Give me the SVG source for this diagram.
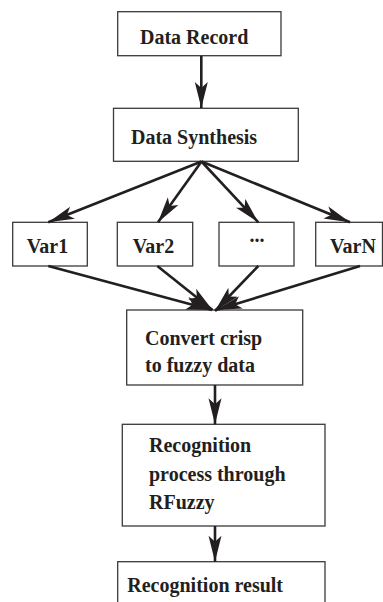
<svg xmlns="http://www.w3.org/2000/svg" width="383" height="602" viewBox="0 0 383 602">
<style>
.box{fill:#fff;stroke:#3a3a3a;stroke-width:1.3}
.t{font-family:"Liberation Serif","Times New Roman",serif;font-weight:bold;font-size:20px;fill:#231f20}
.c{fill:none;stroke:#231f20;stroke-width:2.6;marker-end:url(#ah)}
</style>
<defs>
<marker id="ah" markerUnits="userSpaceOnUse" viewBox="0 0 26 14" refX="26" refY="7" markerWidth="26" markerHeight="14" orient="auto">
<path d="M0,0.5 Q14,4 26,7 Q14,10 0,13.5 L6,7 Z" fill="#231f20"/>
</marker>
</defs>
<g id="n1"><rect class="box" x="117.7" y="11.7" width="163.3" height="44"/><text class="t" x="140" y="43.5">Data Record</text></g>
<g id="n2"><rect class="box" x="113.5" y="108.3" width="184.8" height="53"/><text class="t" x="131" y="144">Data Synthesis</text></g>
<g id="v1"><rect class="box" x="12.7" y="222.3" width="74.6" height="43.7"/><text class="t" x="26.7" y="253.3">Var1</text></g>
<g id="v2"><rect class="box" x="117.3" y="222.3" width="75.4" height="43.7"/><text class="t" x="132.7" y="253.3">Var2</text></g>
<g id="v3"><rect class="box" x="219" y="222.3" width="75" height="43.7"/><text class="t" x="249.5" y="242">...</text></g>
<g id="vn"><rect class="box" x="315.7" y="222.3" width="66.8" height="43.7"/><text class="t" x="330" y="253.3">VarN</text></g>
<g id="n3"><rect class="box" x="126.7" y="310" width="176" height="75"/><text class="t" x="145" y="345">Convert crisp</text><text class="t" x="145" y="371.7">to fuzzy data</text></g>
<g id="n4"><rect class="box" x="122.3" y="424.3" width="202.7" height="101.7"/><text class="t" x="149" y="452.3">Recognition</text><text class="t" x="149" y="480.7">process through</text><text class="t" x="149" y="509.3">RFuzzy</text></g>
<g id="n5"><rect class="box" x="117.7" y="561.7" width="207.3" height="60"/><text class="t" x="127.3" y="591.7">Recognition result</text></g>
<g id="connectors">
<line class="c" x1="201.3" y1="56" x2="201.3" y2="108"/>
<line class="c" x1="201.5" y1="161.5" x2="48.3" y2="222.3"/>
<line class="c" x1="201.5" y1="161.5" x2="158" y2="222.3"/>
<line class="c" x1="201.5" y1="161.5" x2="258.3" y2="222.3"/>
<line class="c" x1="201.5" y1="161.5" x2="350" y2="222.3"/>
<line class="c" x1="48.3" y1="266" x2="212" y2="310"/>
<line class="c" x1="157.3" y1="266" x2="212.5" y2="310"/>
<line class="c" x1="258.3" y1="266" x2="215" y2="311"/>
<line class="c" x1="360" y1="266" x2="216" y2="310"/>
<line class="c" x1="215" y1="385" x2="215" y2="424.3"/>
<line class="c" x1="215" y1="526" x2="215" y2="561.7"/>
</g>
</svg>
